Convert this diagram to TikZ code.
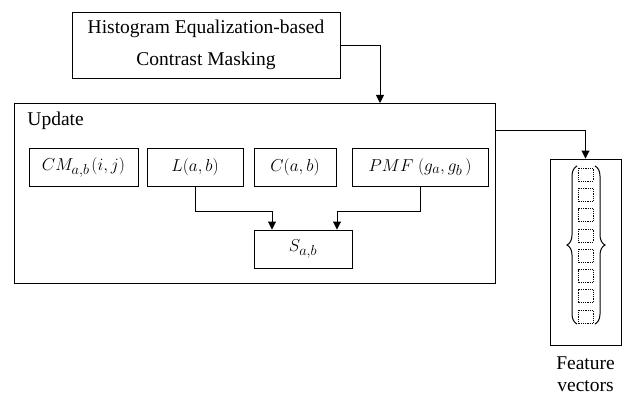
\documentclass[tikz,border=0pt]{standalone}
\usepackage{fontspec}
\setmainfont{Liberation Serif}
\usetikzlibrary{arrows.meta,decorations.pathreplacing}
\begin{document}
\begin{tikzpicture}[x=1pt,y=-1pt,
  line width=0.9pt,
  box/.style={draw, minimum height=38pt, inner sep=0pt, font=\fontsize{19}{22}\selectfont},
  arr/.style={-{Triangle[length=8pt,width=8pt]}},
  slot/.style={draw, densely dotted, line width=0.8pt},
  bracedeco/.style={decorate, decoration={brace, amplitude=10pt}, line width=1pt}]
\useasboundingbox (0,0) rectangle (627,396);

% source block
\node[draw, minimum width=268pt, minimum height=66pt, align=center,
      font=\fontsize{19.5}{32}\selectfont] (hecm) at (206,45)
  {Histogram Equalization-based\\Contrast Masking};

% update container
\node[draw, minimum width=481pt, minimum height=180pt] (upd) at (254.5,193) {};
\node[anchor=base west, inner sep=0pt, font=\fontsize{19.5}{22}\selectfont] (updlbl) at (27,125) {Update};

% inner quantities
\node[box, minimum width=109pt] (cm)  at (83.5,167) {$CM_{a,b}\mskip2mu(i,j)$};
\node[box, minimum width=96pt]  (lab) at (195,167)  {$L(a,b)$};
\node[box, minimum width=82pt]  (cab) at (295,167)  {$C(a,b)$};
\node[box, minimum width=136pt] (pmf) at (420,167)  {$PMF\;(g_a,g_b\,)$};
\node[box, minimum width=98pt]  (sab) at (303,249)  {$S_{a,b}$};

% feature vector block
\node[draw, minimum width=71pt, minimum height=186pt] (feat) at (585.5,252) {};
\node[align=center, font=\fontsize{19.5}{22}\selectfont] (featlbl) at (585.5,374) {Feature\\vectors};

% connectors
\coordinate (updin) at (380,103);
\coordinate (updout) at (495,130);
\draw[arr] (hecm.east) -| (updin);
\draw[arr] (updout) -| (feat.north);
\draw[arr] (lab.south) -- ++(0,25) -| ([xshift=-31pt]sab.north);
\draw[arr] (pmf.south) -- ++(0,25) -| ([xshift=34pt]sab.north);

% vector contents: dotted slots between braces
\foreach \i in {0,...,7}{
  \draw[slot] (578,168+20.3*\i) rectangle (593,181+20.3*\i);
}
\draw[bracedeco] (577,324) -- (577,166);
\draw[bracedeco] (595,166) -- (595,324);
\end{tikzpicture}
\end{document}
